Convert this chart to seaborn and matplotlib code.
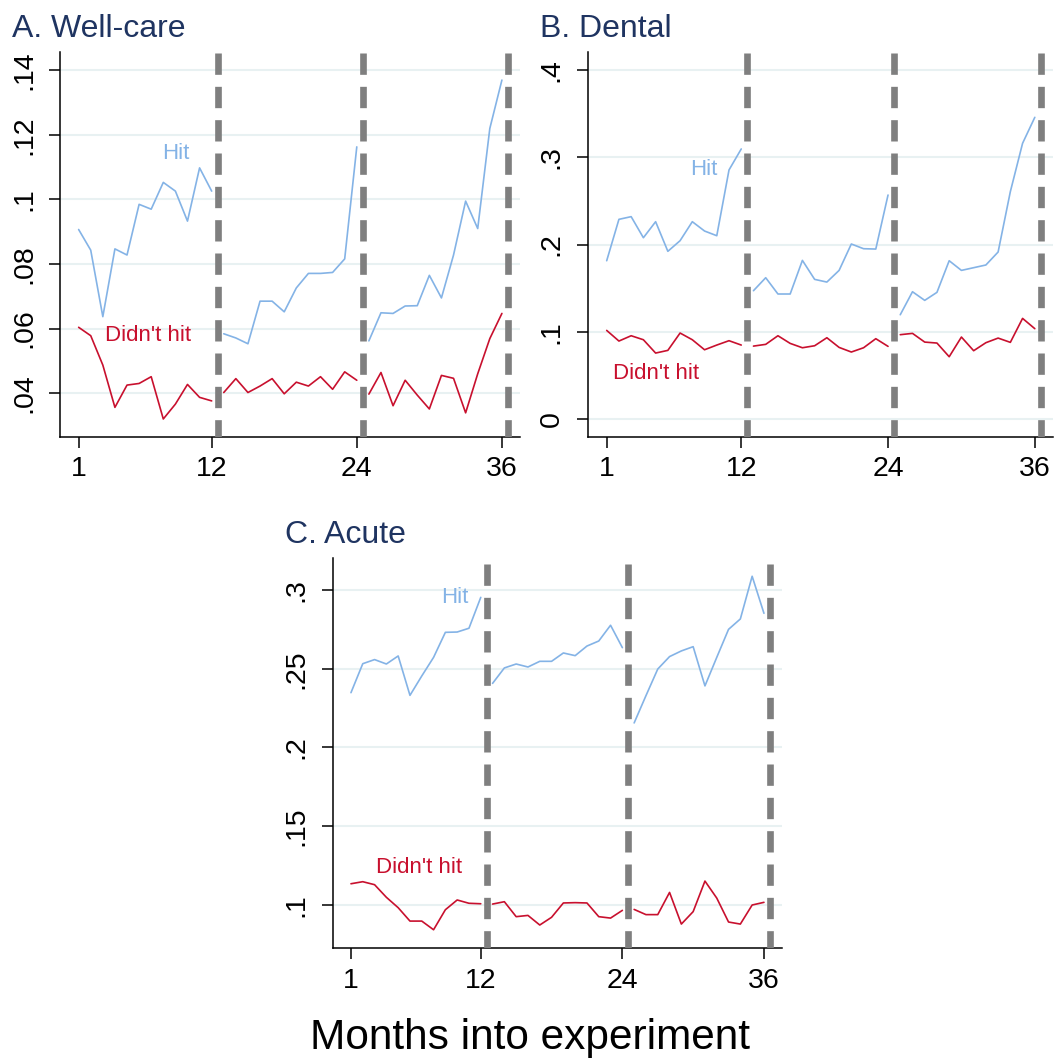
import numpy as np
import pandas as pd
import matplotlib
matplotlib.use("Agg")
import matplotlib.pyplot as plt
import seaborn as sns

# monthly rates, months 1-36 (three 12-month years)
months = list(range(1, 37))

wellcare_hit = [0.0907, 0.0843, 0.0637, 0.0847, 0.0828, 0.0985, 0.0970, 0.1053, 0.1026, 0.0933, 0.1098, 0.1026,
                0.0584, 0.0571, 0.0553, 0.0685, 0.0685, 0.0652, 0.0726, 0.0771, 0.0771, 0.0774, 0.0816, 0.1163,
                0.0562, 0.0649, 0.0647, 0.0670, 0.0671, 0.0765, 0.0695, 0.0828, 0.0995, 0.0910, 0.1220, 0.1370]
wellcare_nohit = [0.0604, 0.0578, 0.0487, 0.0356, 0.0425, 0.0430, 0.0451, 0.0320, 0.0366, 0.0427, 0.0387, 0.0376,
                  0.0402, 0.0445, 0.0402, 0.0422, 0.0445, 0.0398, 0.0434, 0.0422, 0.0451, 0.0412, 0.0466, 0.0440,
                  0.0397, 0.0464, 0.0361, 0.0440, 0.0394, 0.0351, 0.0455, 0.0446, 0.0339, 0.0460, 0.0569, 0.0647]

dental_hit = [0.1814, 0.2289, 0.2320, 0.2078, 0.2262, 0.1922, 0.2044, 0.2262, 0.2155, 0.2101, 0.2856, 0.3097,
              0.1470, 0.1619, 0.1432, 0.1432, 0.1818, 0.1600, 0.1569, 0.1703, 0.2006, 0.1952, 0.1948, 0.2568,
              0.1194, 0.1458, 0.1359, 0.1451, 0.1814, 0.1703, 0.1734, 0.1765, 0.1914, 0.2607, 0.3162, 0.3460]
dental_nohit = [0.1014, 0.0892, 0.0953, 0.0907, 0.0754, 0.0785, 0.0984, 0.0907, 0.0792, 0.0846, 0.0896, 0.0846,
                0.0834, 0.0854, 0.0953, 0.0865, 0.0815, 0.0838, 0.0930, 0.0819, 0.0766, 0.0815, 0.0919, 0.0831,
                0.0965, 0.0980, 0.0880, 0.0869, 0.0712, 0.0938, 0.0781, 0.0873, 0.0926, 0.0877, 0.1152, 0.1034]

acute_hit = [0.2348, 0.2532, 0.2558, 0.2530, 0.2581, 0.2331, 0.2454, 0.2572, 0.2731, 0.2733, 0.2757, 0.2953,
             0.2407, 0.2505, 0.2530, 0.2511, 0.2547, 0.2547, 0.2600, 0.2583, 0.2644, 0.2676, 0.2776, 0.2634,
             0.2156, 0.2329, 0.2498, 0.2577, 0.2613, 0.2640, 0.2391, 0.2572, 0.2750, 0.2816, 0.3087, 0.2852]
acute_nohit = [0.1135, 0.1148, 0.1129, 0.1049, 0.0983, 0.0898, 0.0898, 0.0843, 0.0970, 0.1032, 0.1011, 0.1008,
               0.1006, 0.1021, 0.0926, 0.0934, 0.0873, 0.0922, 0.1013, 0.1015, 0.1013, 0.0926, 0.0917, 0.0966,
               0.0972, 0.0939, 0.0939, 0.1080, 0.0879, 0.0958, 0.1152, 0.1044, 0.0892, 0.0879, 0.1000, 0.1017]

x_ticks = [1, 12, 24, 36]
year_breaks = [12.5, 24.5, 36.5]

hit_color = "#84B3E6"
nohit_color = "#C8102E"
title_color = "#1F3461"
grid_color = "#E8F1F2"

sns.set_style("white")
plt.rcParams["font.family"] = ["Liberation Sans", "DejaVu Sans"]
plt.rcParams["text.color"] = "black"

fig = plt.figure(figsize=(10.54, 10.59), dpi=100)

panels = [
    dict(title="A. Well-care", hit=wellcare_hit, nohit=wellcare_nohit,
         rect=[0.0574, 0.5873, 0.4360, 0.3636], ylim=(0.0264, 0.1457),
         yticks=[0.04, 0.06, 0.08, 0.10, 0.12, 0.14],
         ylabels=[".04", ".06", ".08", ".1", ".12", ".14"],
         hit_lab=(9.0, 0.1143), nohit_lab=(6.7, 0.0578), title_x=0.011),
    dict(title="B. Dental", hit=dental_hit, nohit=dental_nohit,
         rect=[0.5582, 0.5873, 0.4410, 0.3636], ylim=(-0.021, 0.421),
         yticks=[0.0, 0.1, 0.2, 0.3, 0.4],
         ylabels=["0", ".1", ".2", ".3", ".4"],
         hit_lab=(8.9, 0.2856), nohit_lab=(5.0, 0.052), title_x=0.512),
    dict(title="C. Acute", hit=acute_hit, nohit=acute_nohit,
         rect=[0.3162, 0.1045, 0.4254, 0.3686], ylim=(0.0725, 0.3203),
         yticks=[0.10, 0.15, 0.20, 0.25, 0.30],
         ylabels=[".1", ".15", ".2", ".25", ".3"],
         hit_lab=(9.8, 0.2951), nohit_lab=(6.8, 0.1237), title_x=0.270),
]

for p in panels:
    ax = fig.add_axes(p["rect"])

    df = pd.DataFrame({
        "month": months * 2,
        "rate": p["hit"] + p["nohit"],
        "group": ["Hit"] * 36 + ["Didn't hit"] * 36,
        "segment": [(m - 1) // 12 for m in months] * 2,
    })

    for yt in p["yticks"]:
        ax.axhline(yt, color=grid_color, lw=1.5, zorder=0)

    sns.lineplot(data=df, x="month", y="rate", hue="group", units="segment",
                 estimator=None, palette={"Hit": hit_color, "Didn't hit": nohit_color},
                 linewidth=1.2, legend=False, ax=ax)

    for xb in year_breaks:
        ax.axvline(xb, color="#7F7F7F", lw=4.8, linestyle=(0.6, (3.2, 1.8)), zorder=3)

    ax.text(p["hit_lab"][0], p["hit_lab"][1], "Hit", color=hit_color, fontsize=16,
            ha="center", va="center")
    ax.text(p["nohit_lab"][0], p["nohit_lab"][1], "Didn't hit", color=nohit_color, fontsize=16,
            ha="center", va="center")

    ax.set_xlim(-0.5, 37.5)
    ax.set_ylim(*p["ylim"])
    ax.set_xticks(x_ticks)
    ax.set_xticklabels([str(t) for t in x_ticks])
    ax.set_yticks(p["yticks"])
    ax.set_yticklabels(p["ylabels"], rotation=90, va="center")
    ax.tick_params(axis="both", direction="out", length=8, width=1.1, labelsize=20.5,
                   colors="black", left=True, bottom=True)
    ax.tick_params(axis="y", pad=9)
    ax.tick_params(axis="x", pad=6)
    ax.set_xlabel("")
    ax.set_ylabel("")
    for side in ["top", "right"]:
        ax.spines[side].set_visible(False)
    for side in ["left", "bottom"]:
        ax.spines[side].set_color("black")
        ax.spines[side].set_linewidth(1.1)

    top = p["rect"][1] + p["rect"][3]
    fig.text(p["title_x"], top + 0.014, p["title"], color=title_color, fontsize=23,
             ha="left", va="baseline")

fig.text(0.503, 0.009, "Months into experiment", fontsize=30.5, color="black",
         ha="center", va="baseline")

plt.savefig("out.png", dpi=100)
